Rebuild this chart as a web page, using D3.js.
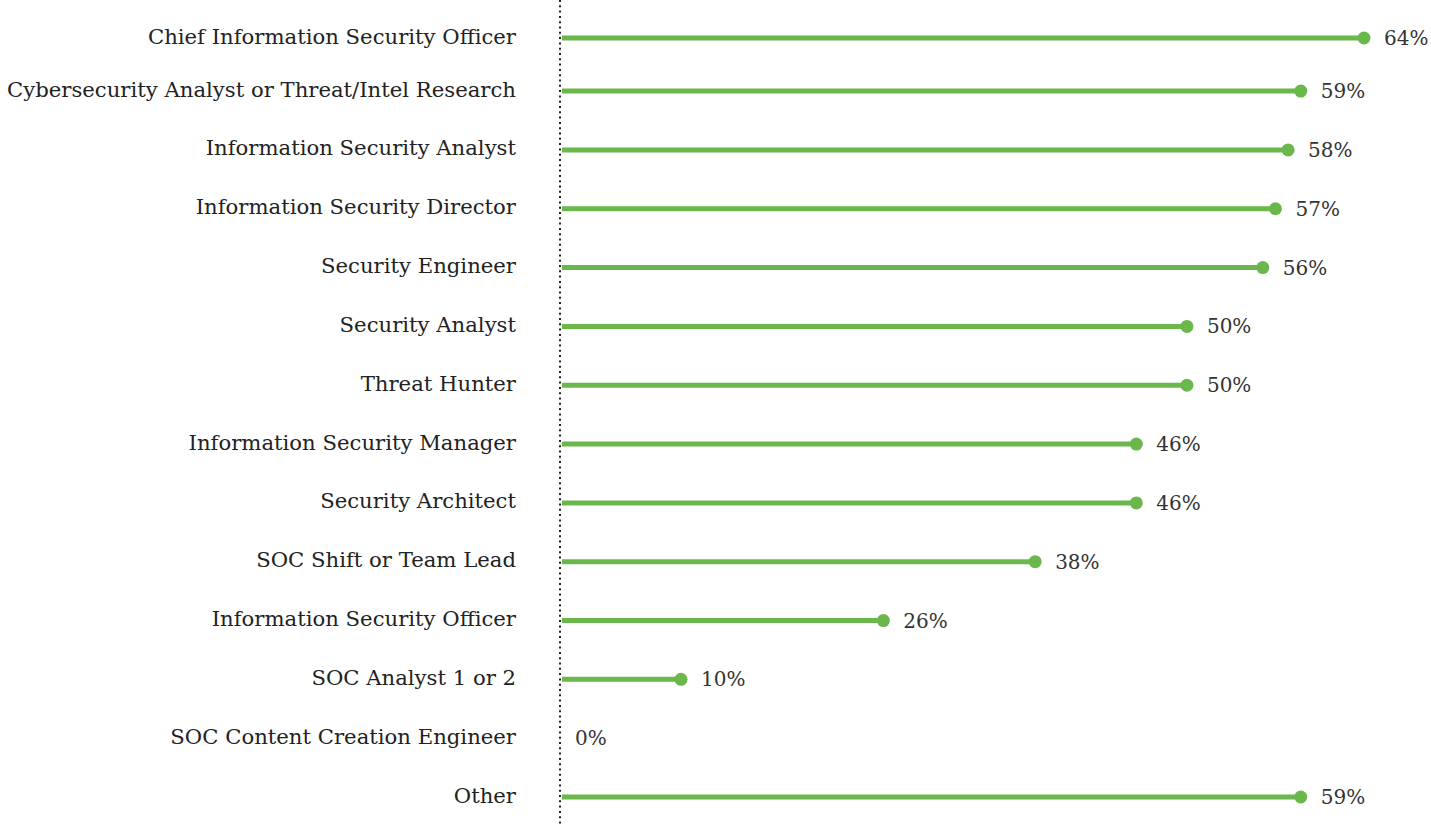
<!DOCTYPE html>
<meta charset="utf-8">
<style>
  body { margin: 0; background: #fff; }
  text { font-family: "DejaVu Serif", serif; fill: #222; }
  .label { font-size: 21.2px; text-anchor: end; }
  .value { font-size: 20px; fill: #333; }
</style>
<svg width="1431" height="825"></svg>
<script src="https://d3js.org/d3.v7.min.js"></script>
<script>

var roles = [
  "Chief Information Security Officer",
  "Cybersecurity Analyst or Threat/Intel Research",
  "Information Security Analyst",
  "Information Security Director",
  "Security Engineer",
  "Security Analyst",
  "Threat Hunter",
  "Information Security Manager",
  "Security Architect",
  "SOC Shift or Team Lead",
  "Information Security Officer",
  "SOC Analyst 1 or 2",
  "SOC Content Creation Engineer",
  "Other"
];
var values = [64, 59, 58, 57, 56, 50, 50, 46, 46, 38, 26, 10, 0, 59];

var data = roles.map(function(r, i) { return {role: r, value: values[i]}; });

var svg = d3.select("svg"),
    axisX = 560,
    green = "#6ab84c";

var x = d3.scaleLinear()
    .domain([0, 64])
    .range([554.5, 1364]);

var yp = d3.scalePoint()
    .domain(roles)
    .range([32.3, 797]);

// the top row sits a little lower than the even spacing
function y(role) {
  return yp(role) + (role === roles[0] ? 5.7 : 0);
}

// dotted baseline
svg.append("line")
    .attr("x1", axisX).attr("x2", axisX)
    .attr("y1", 0).attr("y2", 825)
    .attr("stroke", "#222")
    .attr("stroke-width", 2)
    .attr("stroke-dasharray", "2,3.3");

var row = svg.append("g")
  .selectAll("g")
  .data(data)
  .enter().append("g");

row.append("text")
    .attr("class", "label")
    .attr("x", 516)
    .attr("y", function(d) { return y(d.role) + 5.5; })
    .text(function(d) { return d.role; });

row.filter(function(d) { return d.value > 0; })
  .append("line")
    .attr("x1", axisX + 2)
    .attr("x2", function(d) { return x(d.value); })
    .attr("y1", function(d) { return y(d.role); })
    .attr("y2", function(d) { return y(d.role); })
    .attr("stroke", green)
    .attr("stroke-width", 5);

row.filter(function(d) { return d.value > 0; })
  .append("circle")
    .attr("cx", function(d) { return x(d.value); })
    .attr("cy", function(d) { return y(d.role); })
    .attr("r", 6.5)
    .attr("fill", green);

row.append("text")
    .attr("class", "value")
    .attr("x", function(d) { return d.value > 0 ? x(d.value) + 20 : axisX + 15; })
    .attr("y", function(d) { return y(d.role) + 7; })
    .text(function(d) { return d.value + "%"; });

</script>
